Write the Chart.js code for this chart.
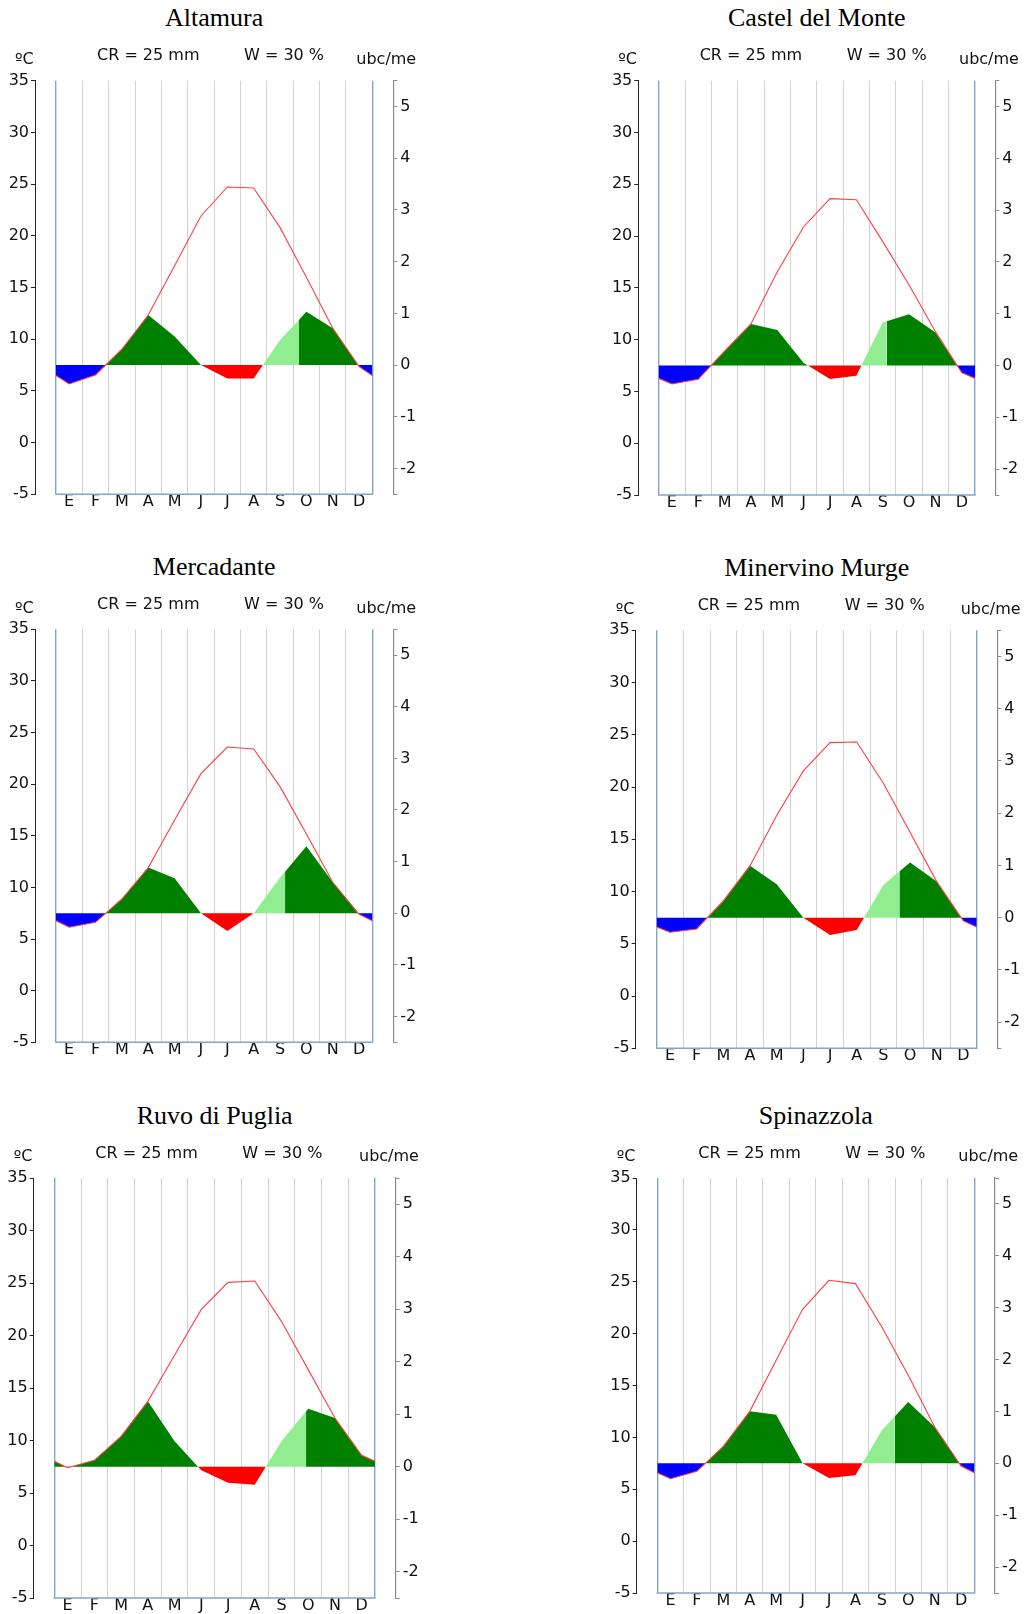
<!DOCTYPE html>
<html>
<head>
<meta charset="utf-8">
<script src="https://cdn.jsdelivr.net/npm/chart.js@4.4.1/dist/chart.umd.min.js"></script>
<style>
html,body{margin:0;padding:0;background:#fff;overflow:hidden;width:1027px;height:1614px;}
#wrap{position:relative;width:1027px;height:1614px;}
canvas{position:absolute;}
.t{position:absolute;white-space:nowrap;color:#111;}
.title{font-family:'Liberation Serif','Times New Roman',serif;font-size:26px;line-height:26px;color:#000;}
.lab{font-family:'DejaVu Sans',sans-serif;font-size:16px;line-height:16px;}
</style>
</head>
<body>
<div id="wrap"></div>
<script>
// ---------- DATA ----------
const months = ['E','F','M','A','M','J','J','A','S','O','N','D'];
const stations = ['Altamura','Castel del Monte','Mercadante','Minervino Murge','Ruvo di Puglia','Spinazzola'];
const headerCR = 'CR = 25 mm';
const headerW = 'W = 30 %';
const tempTicks = [-5,0,5,10,15,20,25,30,35];
const ubcTicks = [-2.5,-2,-1,0,1,2,3,4,5,5.5];

// monthly mean temperature (ºC)
const tempAltamura    = [5.67, 6.54, 9.03, 12.34, 17.1, 21.92, 24.72, 24.62, 20.79, 16.0, 11.06, 7.35];
const tempCastel      = [5.72, 6.17, 8.9, 11.51, 16.56, 20.9, 23.61, 23.51, 19.46, 15.27, 10.77, 6.81];
const tempMercadante  = [6.14, 6.62, 8.88, 11.92, 16.53, 21.02, 23.6, 23.41, 19.76, 15.18, 10.5, 7.4];
const tempMinervino   = [6.1, 6.42, 9.1, 12.48, 17.27, 21.54, 24.25, 24.31, 20.36, 15.67, 10.95, 7.19];
const tempRuvo        = [7.41, 8.11, 10.4, 13.73, 18.11, 22.49, 25.06, 25.19, 21.35, 16.75, 12.14, 8.59];
const tempSpinazzola  = [6.02, 6.73, 9.14, 12.51, 17.43, 22.34, 25.14, 24.82, 20.64, 15.98, 11.0, 7.24];

// monthly bioclimatic balance (ubc/me)
const ubcAltamura     = [-0.366, -0.192, 0.306, 0.968, 0.55, 0.0, -0.262, -0.262, 0.486, 1.03, 0.712, -0.03];
const ubcCastel       = [-0.356, -0.266, 0.28, 0.80, 0.686, 0.05, -0.26, -0.196, 0.83, 0.988, 0.64, -0.14];
const ubcMercadante   = [-0.272, -0.176, 0.276, 0.884, 0.676, 0.0, -0.344, 0.0, 0.69, 1.30, 0.6, -0.02];
const ubcMinervino    = [-0.28, -0.216, 0.32, 0.996, 0.638, 0.0, -0.33, -0.236, 0.626, 1.054, 0.69, -0.062];
const ubcRuvo         = [-0.018, 0.122, 0.58, 1.246, 0.484, -0.068, -0.304, -0.342, 0.484, 1.106, 0.93, 0.218];
const ubcSpinazzola   = [-0.296, -0.154, 0.328, 1.002, 0.938, 0.0, -0.284, -0.232, 0.636, 1.182, 0.70, -0.052];

// values at the year boundary (left / right edge of each diagram)
const edgeTemp = [6.48, 6.26, 6.78, 6.6, 8.02, 6.6];
const edgeUbc  = [-0.204, -0.248, -0.144, -0.18, 0.104, -0.18];
// end of the conditioned (light green) activity, in months from January 1st
const recoveryEnd = [9.22, 8.65, 8.69, 9.1, 9.42, 8.98];

const temps = [tempAltamura, tempCastel, tempMercadante, tempMinervino, tempRuvo, tempSpinazzola];
const ubcs  = [ubcAltamura, ubcCastel, ubcMercadante, ubcMinervino, ubcRuvo, ubcSpinazzola];

// ---------- LAYOUT (page pixels) ----------
const layout = [
  {leftAxis:35,    plotL:56,    plotR:372.3, rightAxis:393.3, top:80.7,  bottom:494.3},
  {leftAxis:638.3, plotL:658.7, plotR:975,   rightAxis:995.3, top:80.7,  bottom:495},
  {leftAxis:35,    plotL:56,    plotR:372.3, rightAxis:393.3, top:629.3, bottom:1042.3},
  {leftAxis:635.7, plotL:656.7, plotR:976.7, rightAxis:997.3, top:630.3, bottom:1048.3},
  {leftAxis:33.7,  plotL:54.3,  plotR:375,   rightAxis:395.7, top:1178,  bottom:1598},
  {leftAxis:636.7, plotL:657.3, plotR:974.3, rightAxis:995,   top:1178,  bottom:1593}
];

const COLORS = {blue:'#0000ff', red:'#ff0000', green:'#008000', light:'#90ee90'};
const FRAME = '#7fa6cf';
const GRID = '#d2d2d2';
const TLINE = '#ff3f3f';

Chart.defaults.font.family = "'DejaVu Sans', sans-serif";
Chart.defaults.font.size = 16;
Chart.defaults.color = '#111';

// split the balance polyline into coloured pieces (crossings of zero computed on the line)
function buildPieces(t, u, eT, eU, split) {
  const pts = [{x:0, v:eU, t:eT}];
  u.forEach((v,i) => pts.push({x:i+0.5, v:v, t:t[i]}));
  pts.push({x:12, v:eU, t:eT});
  const P = [];
  for (let i = 0; i < pts.length-1; i++) {
    const a = pts[i], b = pts[i+1];
    P.push(a);
    const cuts = [];
    if (a.v*b.v < 0) cuts.push({x: a.x + (b.x-a.x)*a.v/(a.v-b.v), zero:true});
    if (split > a.x && split < b.x) cuts.push({x: split, zero:false});
    cuts.sort((p,q) => p.x-q.x).forEach(c => {
      const f = (c.x-a.x)/(b.x-a.x);
      P.push({x:c.x, v: c.zero ? 0 : a.v+(b.v-a.v)*f, t: a.t+(b.t-a.t)*f});
    });
  }
  P.push(pts[pts.length-1]);
  const seg = [];
  for (let k = 0; k < P.length-1; k++) {
    const a = P[k], b = P[k+1];
    const mv = (a.v+b.v)/2, mt = (a.t+b.t)/2;
    seg.push({a, b, c: mv < 0 ? (mt < 7.5 ? 'blue' : 'red') : 'green'});
  }
  let redEnd = -1;
  seg.forEach(s => { if (s.c === 'red') redEnd = Math.max(redEnd, s.b.x); });
  seg.forEach(s => { const mx = (s.a.x+s.b.x)/2; if (s.c === 'green' && mx > redEnd && mx < split) s.c = 'light'; });
  const pieces = [];
  seg.forEach(s => {
    const last = pieces[pieces.length-1];
    if (last && last.c === s.c) last.pts.push(s.b);
    else pieces.push({c: s.c, pts: [s.a, s.b]});
  });
  return pieces;
}

const framePlugin = {
  id: 'frameBottom',
  beforeDatasetsDraw(chart) {
    const {ctx, chartArea, scales} = chart;
    const x = scales.x;
    ctx.save();
    ctx.strokeStyle = FRAME;
    ctx.lineWidth = 1.4;
    ctx.beginPath();
    const y = chartArea.bottom;
    ctx.moveTo(x.getPixelForValue(0) - 0.7, y);
    ctx.lineTo(x.getPixelForValue(12) + 0.7, y);
    ctx.stroke();
    ctx.restore();
  }
};

const wrap = document.getElementById('wrap');
function addText(cls, text, left, top, center) {
  const d = document.createElement('div');
  d.className = 't ' + cls;
  d.textContent = text;
  d.style.left = left + 'px';
  d.style.top = top + 'px';
  if (center) d.style.transform = 'translateX(-50%)';
  wrap.appendChild(d);
}

stations.forEach((name, idx) => {
  const L = layout[idx];
  const cx = Math.floor(L.leftAxis) - 40;
  const W = Math.ceil(L.rightAxis) + 40 - cx;
  const cy = Math.floor(L.top) - 20;
  const H = Math.ceil(L.bottom) + 24 - cy;
  const leftW = L.leftAxis - cx;
  const rightW = cx + W - L.rightAxis;
  const topPad = L.top - cy;
  const bottomH = cy + H - L.bottom;
  const mw = (L.plotR - L.plotL) / 12;
  const xmin = -(L.plotL - L.leftAxis) / mw;
  const xmax = 12 + (L.rightAxis - L.plotR) / mw;

  const canvas = document.createElement('canvas');
  canvas.width = W; canvas.height = H;
  canvas.style.left = cx + 'px'; canvas.style.top = cy + 'px';
  canvas.style.width = W + 'px'; canvas.style.height = H + 'px';
  wrap.appendChild(canvas);

  const t = temps[idx], u = ubcs[idx];
  const tempData = [{x:0, y:edgeTemp[idx]}].concat(t.map((v,i) => ({x:i+0.5, y:v})), [{x:12, y:edgeTemp[idx]}]);
  const datasets = [{
    label: 'T', yAxisID: 'y', data: tempData, borderColor: TLINE, borderWidth: 1.1,
    pointRadius: 0, fill: false, tension: 0, order: 0
  }];
  buildPieces(t, u, edgeTemp[idx], edgeUbc[idx], recoveryEnd[idx]).forEach(p => {
    datasets.push({
      label: p.c, yAxisID: 'y2', data: p.pts.map(q => ({x:q.x, y:q.v})),
      borderColor: 'rgba(0,0,0,0)', borderWidth: 0, backgroundColor: COLORS[p.c],
      fill: {value: 0}, pointRadius: 0, tension: 0, order: 1
    });
  });

  new Chart(canvas, {
    type: 'line',
    data: {datasets},
    plugins: [framePlugin],
    options: {
      responsive: false, animation: false, devicePixelRatio: 1,
      layout: {padding: {top: topPad, left: 0, right: 0, bottom: 0}},
      plugins: {legend: {display: false}, tooltip: {enabled: false}, title: {display: false}},
      scales: {
        x: {
          type: 'linear', position: 'bottom', min: xmin, max: xmax,
          afterBuildTicks: s => { s.ticks = Array.from({length: 25}, (_, i) => ({value: i/2})); },
          afterFit: s => { s.height = bottomH; },
          border: {display: false},
          grid: {
            drawTicks: false,
            color: c => { const v = c.tick ? c.tick.value : 0.5; if (v % 1 !== 0) return 'rgba(0,0,0,0)'; return (v === 0 || v === 12) ? FRAME : GRID; },
            lineWidth: c => { const v = c.tick ? c.tick.value : 0.5; if (v % 1 !== 0) return 0; return (v === 0 || v === 12) ? 1.4 : 1; }
          },
          ticks: {
            autoSkip: false, maxRotation: 0, minRotation: 0, padding: 0, color: '#111',
            font: {size: 16, lineHeight: 1},
            callback: v => (Math.abs(v % 1 - 0.5) < 1e-6) ? months[Math.floor(v)] : ''
          }
        },
        y: {
          type: 'linear', position: 'left', min: -5, max: 35,
          afterBuildTicks: s => { s.ticks = tempTicks.map(v => ({value: v})); },
          afterFit: s => { s.width = leftW; },
          border: {display: true, color: '#222', width: 1},
          grid: {drawOnChartArea: false, drawTicks: true, tickLength: 4, color: '#222'},
          ticks: {padding: 2, color: '#111', font: {size: 16}, callback: v => String(v)}
        },
        y2: {
          type: 'linear', position: 'right', min: -2.5, max: 5.5,
          afterBuildTicks: s => { s.ticks = ubcTicks.map(v => ({value: v})); },
          afterFit: s => { s.width = rightW; },
          border: {display: true, color: '#8a8a8a', width: 1.2},
          grid: {drawOnChartArea: false, drawTicks: true, tickLength: 4, color: '#8a8a8a'},
          ticks: {padding: 3, color: '#111', font: {size: 16}, callback: v => Number.isInteger(v) ? String(v) : ''}
        }
      }
    }
  });

  // header texts
  addText('title', name, (L.plotL + L.plotR)/2, L.top - 53.5 - 21.8, true);
  addText('lab', 'ºC', L.leftAxis - 20, L.top - 16.3 - 13.5, false);
  addText('lab', headerCR, L.plotL + 41, L.top - 20 - 13.5, false);
  addText('lab', headerW, L.plotL + 188, L.top - 20 - 13.5, false);
  addText('lab', 'ubc/me', L.plotR - 16, L.top - 16.3 - 13.5, false);
});
</script>
</body>
</html>
